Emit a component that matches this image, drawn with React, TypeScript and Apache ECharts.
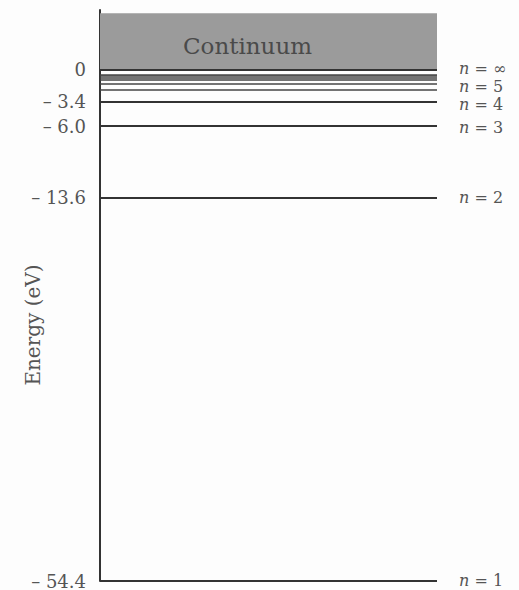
import React, { useEffect, useRef } from "react";
import * as echarts from "echarts";

const levelValues = [-54.4, -13.6, -6.0, -3.4, -2.18, -1.51, -1.11, -0.85, -0.67, -0.54, 0];
const levelLabels = ["1", "2", "3", "4", "5", "", "", "", "", "", "∞"];
const labelShift = [-1, 0, 1, 2.5, -4, 0, 0, 0, 0, 0, -1.5];
const tickValues = [0, -3.4, -6.0, -13.6, -54.4];
const tickLabels = ["0", "\u2013 3.4", "\u2013 6.0", "\u2013 13.6", "\u2013 54.4"];
const continuumRange = [0, 6.0];

const FONT = "DejaVu Serif";

export default function App() {
  const ref = useRef<HTMLDivElement>(null);
  useEffect(() => {
    if (!ref.current) return;
    const chart = echarts.init(ref.current, null, { renderer: "svg" });
    const lineData = levelValues.map((v, i) => ({
      yAxis: v,
      label: {
        show: levelLabels[i] !== "",
        position: "end",
        distance: 22,
        offset: [0, labelShift[i]],
        formatter: "{i|n} = " + levelLabels[i],
        fontFamily: FONT,
        fontSize: 16,
        lineHeight: 14,
        color: "#555",
        rich: { i: { fontStyle: "italic", fontFamily: FONT, fontSize: 16, lineHeight: 14, color: "#555" } },
      },
      lineStyle: { color: i >= 4 && i <= 9 ? "#444" : "#333", width: i >= 4 && i <= 9 ? 1.5 : 2 },
    }));
    chart.setOption({
      animation: false,
      backgroundColor: "#fdfdfd",
      grid: { left: 100, right: 82, top: 10, bottom: 7, containLabel: false },
      xAxis: { type: "value", min: 0, max: 1, show: false },
      yAxis: {
        type: "value",
        min: -54.4,
        max: 6.35,
        splitLine: { show: false },
        axisTick: { show: false },
        axisLine: { show: true, lineStyle: { color: "#333", width: 2 } },
        axisLabel: {
          customValues: tickValues,
          formatter: (v: number) => {
            const idx = tickValues.findIndex((t) => Math.abs(t - v) < 1e-6);
            return idx >= 0 ? tickLabels[idx] : "";
          },
          fontFamily: FONT,
          fontSize: 18,
          color: "#555",
          margin: 14,
        },
      },
      graphic: [
        {
          type: "text",
          x: 33,
          y: 325,
          rotation: Math.PI / 2,
          style: {
            text: "Energy (eV)",
            fontFamily: FONT,
            fontSize: 20,
            fill: "#555",
            align: "center",
            verticalAlign: "middle",
          },
        },
      ],
      series: [
        {
          type: "line",
          data: [],
          markArea: {
            silent: true,
            itemStyle: { color: "#9b9b9b" },
            label: {
              show: true,
              position: "inside",
              formatter: "Continuum",
              fontFamily: FONT,
              fontSize: 23,
              color: "#4a4a4a",
              offset: [-21, 5],
            },
            data: [[{ yAxis: continuumRange[0] }, { yAxis: continuumRange[1] }]],
          },
          markLine: {
            silent: true,
            symbol: ["none", "none"],
            lineStyle: { type: "solid" },
            data: lineData,
          },
        },
      ],
    });
    return () => chart.dispose();
  }, []);
  return <div ref={ref} style={{ width: 519, height: 590, position: "absolute", left: 0, top: 0 }} />;
}
